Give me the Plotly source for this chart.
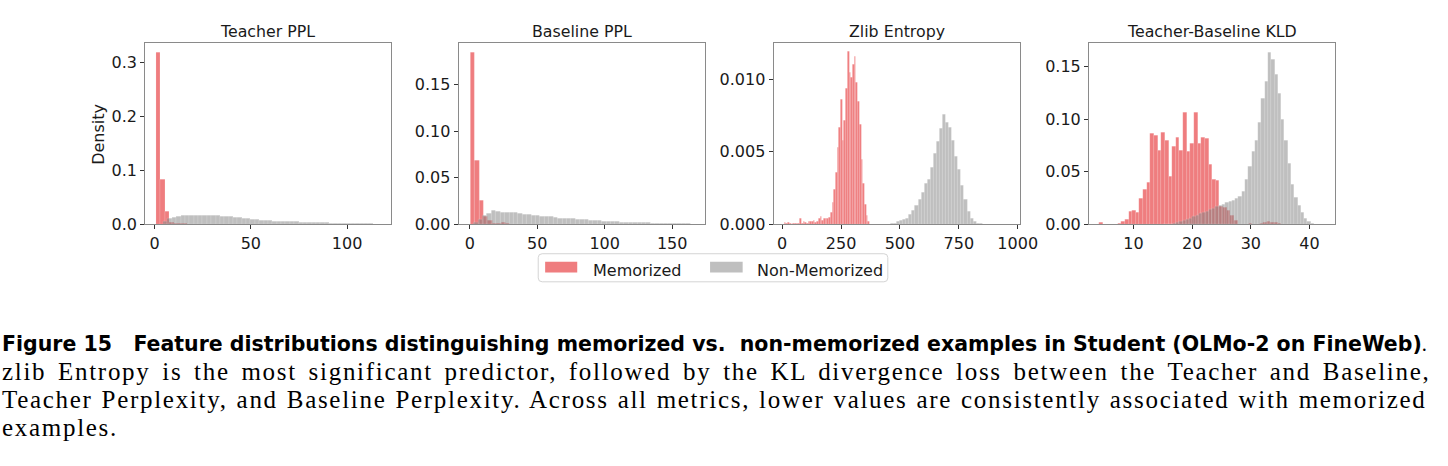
import plotly.graph_objects as go

W, H = 1448, 466

# ---------------- data (densities) ----------------
titles = ["Teacher PPL", "Baseline PPL", "Zlib Entropy", "Teacher-Baseline KLD"]
series_names = ["Memorized", "Non-Memorized"]

# Teacher PPL
tppl_mem_start, tppl_mem_w = 0.6, 2.35
tppl_mem = [0.318, 0.083, 0.025, 0.0036, 0.0022, 0.0015, 0.001, 0.0008, 0.0006, 0.0005, 0.0004, 0.0003]
tppl_non_start, tppl_non_w = 4.5, 2.27
tppl_non = [0.006, 0.011, 0.0135, 0.0148, 0.0158, 0.0163, 0.0168, 0.0172, 0.0175, 0.0176,
            0.0173, 0.0168, 0.0163, 0.0157, 0.0150, 0.0145, 0.0138, 0.0128, 0.0118, 0.0105,
            0.0097, 0.0090, 0.0083, 0.0076, 0.0070, 0.0064, 0.0060, 0.0056, 0.0053, 0.0050,
            0.0047, 0.0045, 0.0042, 0.0040, 0.0037, 0.0034, 0.0032, 0.0030, 0.0027, 0.0025,
            0.0023, 0.0021, 0.0020, 0.0018, 0.0017, 0.0015, 0.0013, 0.0011, 0.0009, 0.0006]

# Baseline PPL
bppl_mem_start, bppl_mem_w = 0.5, 3.25
bppl_mem = [0.185, 0.0687, 0.0256, 0.009, 0.004, 0.0015, 0.0012, 0.0025, 0.001, 0.0005, 0.0003]
bppl_non_start, bppl_non_w = 3.0, 3.27
bppl_non = [0.002, 0.0056, 0.0098, 0.0116, 0.0147, 0.014, 0.0133, 0.0128, 0.0126, 0.013,
            0.0123, 0.0112, 0.0105, 0.0098, 0.0098, 0.0091, 0.0084, 0.0081, 0.0074, 0.007,
            0.0067, 0.0063, 0.006, 0.0056, 0.0053, 0.0049, 0.0046, 0.0042, 0.0039, 0.0036,
            0.0034, 0.0031, 0.0029, 0.0027, 0.0025, 0.0023, 0.0021, 0.002, 0.0018, 0.0017,
            0.0015, 0.0014, 0.0013, 0.0012, 0.0011, 0.001, 0.0009, 0.0008, 0.0006, 0.0004]

# Zlib Entropy
zlib_mem_start, zlib_mem_w = 9.2, 7.24
zlib_mem = [0.00012, 0.0001, 0.00012, 0.00005, 0.0, 0.0001, 0.00008, 0.0001, 0.0001, 0.0004,
            0.0001, 0.00018, 0.00012, 0.0001, 0.0002, 0.00022, 0.0002, 0.0003, 0.00012, 0.0002,
            0.00045, 0.00056, 0.00025, 0.0004, 0.0004, 0.00045, 0.0005, 0.00085, 0.0015, 0.0024,
            0.0036, 0.0053, 0.0067, 0.0086, 0.0058, 0.0072, 0.0094, 0.0119, 0.0105, 0.0101,
            0.0110, 0.0116, 0.0098, 0.0085, 0.0069, 0.0045, 0.0028, 0.0014, 0.0006, 0.0002]
zlib_non_start, zlib_non_w = 460.0, 13.0
zlib_non = [0.00005, 0.0001, 0.0002, 0.00025, 0.00033, 0.00045, 0.0007, 0.001, 0.0013, 0.0017,
            0.0022, 0.0028, 0.0031, 0.0039, 0.0049, 0.0057, 0.0066, 0.0076, 0.0070, 0.0067,
            0.0058, 0.0047, 0.0038, 0.0027, 0.0017, 0.0009, 0.00045, 0.0002, 0.0001, 0.00005]

# Teacher-Baseline KLD
kld_mem_start, kld_mem_w = 4.2, 0.62
kld_mem = [0.0015, 0, 0, 0, 0, 0.0012, 0.0025, 0.005, 0.0125, 0.013,
           0.0115, 0.025, 0.0334, 0.0396, 0.086, 0.0845, 0.0706, 0.0876, 0.080, 0.0458,
           0.0737, 0.0823, 0.0706, 0.106, 0.069, 0.0768, 0.106, 0.0768, 0.083, 0.0814,
           0.0566, 0.0427, 0.042, 0.0173, 0.0164, 0.0133, 0.0087, 0.004, 0.0005, 0,
           0, 0.0012, 0, 0, 0.0008, 0.002, 0.0025, 0.0022, 0.0015, 0.0008]
kld_non_start, kld_non_w = 15.0, 0.56
kld_non = [0.0001, 0.0002, 0.0004, 0.0008, 0.0015, 0.0025, 0.0035, 0.005, 0.0062, 0.0076,
           0.0088, 0.0100, 0.0115, 0.0128, 0.014, 0.0155, 0.0168, 0.018, 0.019, 0.0205,
           0.0215, 0.0225, 0.0245, 0.027, 0.031, 0.043, 0.055, 0.069, 0.080, 0.097,
           0.120, 0.136, 0.163, 0.157, 0.142, 0.124, 0.100, 0.080, 0.058, 0.038,
           0.026, 0.018, 0.011, 0.0055, 0.0025, 0.001, 0.0004, 0.0002, 0.0001]

x_tickvals = [[0, 50, 100], [0, 50, 100, 150], [0, 250, 500, 750, 1000], [10, 20, 30, 40]]
y_tickvals = [[0.0, 0.1, 0.2, 0.3], [0.0, 0.05, 0.10, 0.15], [0.0, 0.005, 0.010], [0.0, 0.05, 0.10, 0.15]]
y_ticktext = [["0.0", "0.1", "0.2", "0.3"], ["0.00", "0.05", "0.10", "0.15"],
              ["0.000", "0.005", "0.010"], ["0.00", "0.05", "0.10", "0.15"]]

caption_title = "Figure 15\u00a0\u00a0\u00a0Feature distributions distinguishing memorized vs.\u00a0\u00a0non-memorized examples in Student (OLMo-2 on FineWeb)"
caption_lines = [
    "zlib Entropy is the most significant predictor, followed by the KL divergence loss between the Teacher and Baseline,",
    "Teacher Perplexity, and Baseline Perplexity. Across all metrics, lower values are consistently associated with memorized",
    "examples.",
]

# ---------------- styling / layout ----------------
RED = "rgba(232,70,72,0.70)"
GRAY = "rgba(128,128,128,0.50)"
FRAME = "#8a8a8a"
TXT = "#1a1a1a"

px_x = [(147, 395.5), (464.3, 714), (783.3, 1033.3), (1102.7, 1351.7)]
px_top, px_bot = 44.3, 229.3
x_ranges = [[-4.9, 122.6], [-8.3, 174.4], [-36.5, 1011.7], [2.42, 44.33]]
y_ranges = [[0, 0.3345], [0, 0.1946], [0, 0.01247], [0, 0.1718]]

panels = [
    (tppl_mem_start, tppl_mem_w, tppl_mem, tppl_non_start, tppl_non_w, tppl_non),
    (bppl_mem_start, bppl_mem_w, bppl_mem, bppl_non_start, bppl_non_w, bppl_non),
    (zlib_mem_start, zlib_mem_w, zlib_mem, zlib_non_start, zlib_non_w, zlib_non),
    (kld_mem_start, kld_mem_w, kld_mem, kld_non_start, kld_non_w, kld_non),
]


def centers(start, w, vals):
    return [start + (i + 0.5) * w for i in range(len(vals))]


def px(xp, yp):
    return xp / W, 1 - yp / H


fig = go.Figure()
layout = {}
annotations = []
shapes = []

for k, (ms, mw, mv, ns, nw, nv) in enumerate(panels):
    sfx = "" if k == 0 else str(k + 1)
    xa, ya = "x" + sfx, "y" + sfx
    fig.add_trace(go.Bar(x=centers(ms, mw, mv), y=mv, width=mw, name=series_names[0],
                         marker=dict(color=RED, line=dict(width=0.4, color="rgba(255,255,255,0.35)")),
                         xaxis=xa, yaxis=ya, showlegend=False))
    fig.add_trace(go.Bar(x=centers(ns, nw, nv), y=nv, width=nw, name=series_names[1],
                         marker=dict(color=GRAY, line=dict(width=0.4, color="rgba(255,255,255,0.35)")),
                         xaxis=xa, yaxis=ya, showlegend=False))
    l, r = px_x[k]
    axis_common = dict(showline=True, mirror=True, linecolor=FRAME, linewidth=1,
                       showgrid=False, zeroline=False, ticks="outside", ticklen=4,
                       tickwidth=1, tickcolor="#333",
                       tickfont=dict(family="DejaVu Sans", size=16, color=TXT))
    layout["xaxis" + sfx] = dict(domain=[l / W, r / W], range=x_ranges[k], anchor=ya,
                                 tickvals=x_tickvals[k], **axis_common)
    layout["yaxis" + sfx] = dict(domain=[1 - px_bot / H, 1 - px_top / H], range=y_ranges[k],
                                 anchor=xa, tickvals=y_tickvals[k], ticktext=y_ticktext[k],
                                 **axis_common)
    annotations.append(dict(text=titles[k], x=(l + r) / 2 / W, y=1 - 32 / H, xref="paper",
                            yref="paper", xanchor="center", yanchor="middle", showarrow=False,
                            font=dict(family="DejaVu Sans", size=15.8, color=TXT)))

annotations.append(dict(text="Density", x=99 / W, y=1 - 137 / H, xref="paper", yref="paper",
                        textangle=-90, showarrow=False, xanchor="center", yanchor="middle",
                        font=dict(family="DejaVu Sans", size=16, color=TXT)))

# legend box with rounded corners
bx0, bx1, by0, by1, rr = 545, 899, 259.3, 288, 4
pts = [
    f"M {px(bx0 + rr, by0)[0]} {px(bx0 + rr, by0)[1]}",
    f"L {px(bx1 - rr, by0)[0]} {px(bx1 - rr, by0)[1]}",
    f"Q {px(bx1, by0)[0]} {px(bx1, by0)[1]} {px(bx1, by0 + rr)[0]} {px(bx1, by0 + rr)[1]}",
    f"L {px(bx1, by1 - rr)[0]} {px(bx1, by1 - rr)[1]}",
    f"Q {px(bx1, by1)[0]} {px(bx1, by1)[1]} {px(bx1 - rr, by1)[0]} {px(bx1 - rr, by1)[1]}",
    f"L {px(bx0 + rr, by1)[0]} {px(bx0 + rr, by1)[1]}",
    f"Q {px(bx0, by1)[0]} {px(bx0, by1)[1]} {px(bx0, by1 - rr)[0]} {px(bx0, by1 - rr)[1]}",
    f"L {px(bx0, by0 + rr)[0]} {px(bx0, by0 + rr)[1]}",
    f"Q {px(bx0, by0)[0]} {px(bx0, by0)[1]} {px(bx0 + rr, by0)[0]} {px(bx0 + rr, by0)[1]} Z",
]
shapes.append(dict(type="path", xref="paper", yref="paper", path=" ".join(pts),
                   line=dict(color="#d4d4d4", width=1), fillcolor="white"))
for (px0, px1, col, tx, name) in [(552, 584.5, RED, 598, series_names[0]),
                                  (719, 752, GRAY, 765, series_names[1])]:
    shapes.append(dict(type="rect", xref="paper", yref="paper", x0=px0 / W, x1=px1 / W,
                       y0=1 - 278.5 / H, y1=1 - 267.5 / H, line=dict(width=0), fillcolor=col))
    annotations.append(dict(text=name, x=tx / W, y=1 - 276 / H, xref="paper", yref="paper",
                            xanchor="left", yanchor="middle", showarrow=False,
                            font=dict(family="DejaVu Sans", size=16, color=TXT)))

# caption
annotations.append(dict(text="<b>" + caption_title + "</b><span style='font-family:Liberation Serif'>.</span>",
                        x=0, y=1 - 352 / H, xref="paper", yref="paper", xanchor="left",
                        yanchor="middle", showarrow=False,
                        font=dict(family="DejaVu Sans", size=20.5, color="black")))
letter_sp = [1.7, 1.7, 1.7]
word_sp = [3.8, 1.0, 0]
for i, line in enumerate(caption_lines):
    annotations.append(dict(text=f"<span style='letter-spacing:{letter_sp[i]}px;word-spacing:{word_sp[i]}px'>{line}</span>",
                            x=0, y=1 - (380 + 28.6 * i) / H, xref="paper",
                            yref="paper", xanchor="left", yanchor="middle", showarrow=False,
                            font=dict(family="Liberation Serif", size=25, color="black")))

fig.update_layout(width=W, height=H, margin=dict(l=0, r=0, t=0, b=0),
                  paper_bgcolor="white", plot_bgcolor="white", barmode="overlay",
                  bargap=0, annotations=annotations, shapes=shapes, **layout)

fig.write_html("out.html")
